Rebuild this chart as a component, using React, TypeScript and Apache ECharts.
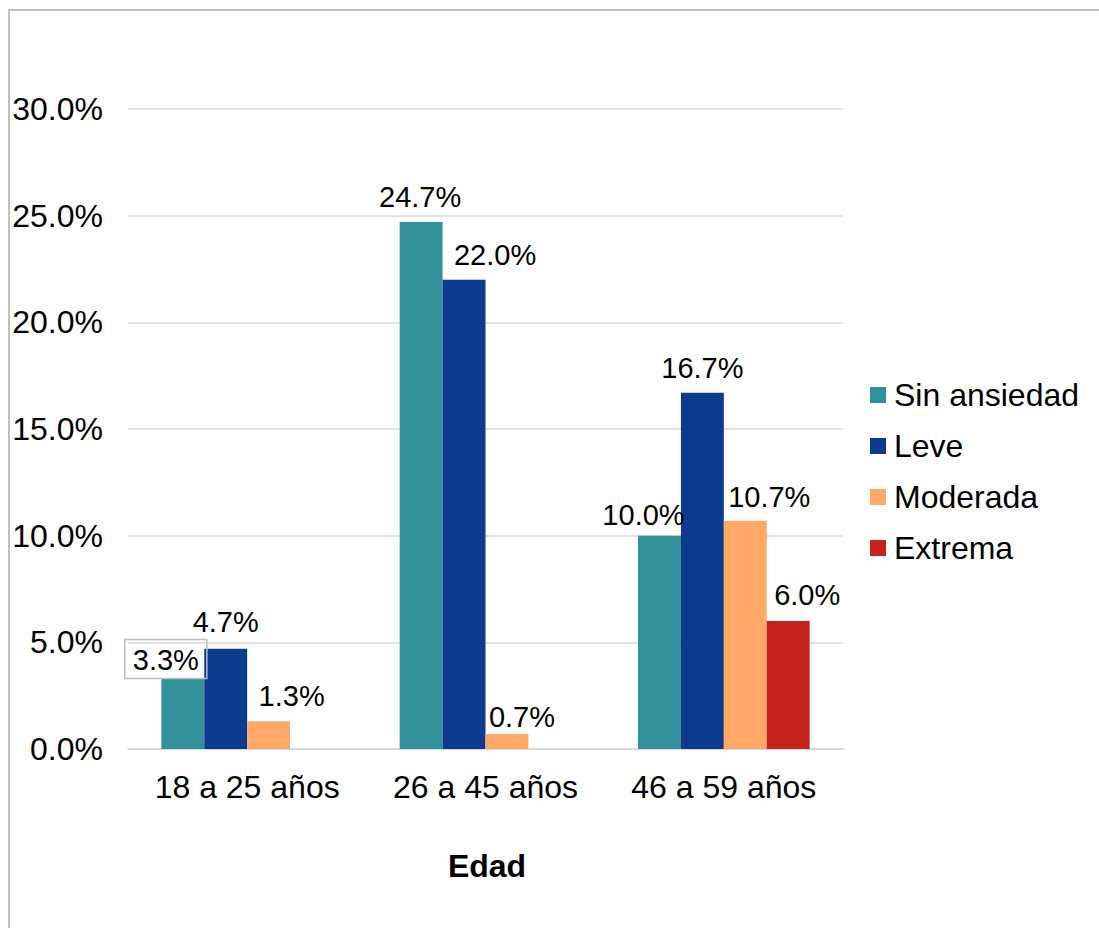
import React, { useEffect, useRef } from "react";
import * as echarts from "echarts";

// Age groups on the x axis
const categories = ["18 a 25 años", "26 a 45 años", "46 a 59 años"];

// Percentages per anxiety level
const sinAnsiedad = [3.3, 24.7, 10.0];
const leve = [4.7, 22.0, 16.7];
const moderada = [1.3, 0.7, 10.7];
const extrema: (number | null)[] = [null, null, 6.0];

// Y axis range (percent)
const yMin = 0;
const yMax = 30;
const yStep = 5;

const seriesNames = ["Sin ansiedad", "Leve", "Moderada", "Extrema"];
const colors = ["#31909A", "#0C3A8F", "#FFA867", "#C4221A"];

// Label nudges [dx, dy] for each bar label
const labelOffsets: number[][][] = [
  [[-17, 11], [-1, 0], [-16, 5]],
  [[0, -1], [31, 1], [0, 1]],
  [[23, 0], [15, 8], [24, 2]],
  [[0, 0], [0, 0], [19, -1]],
];

const FONT = "'Liberation Sans', Arial, sans-serif";

export default function App() {
  const ref = useRef<HTMLDivElement>(null);

  useEffect(() => {
    document.body.style.margin = "0";
    if (!ref.current) return;
    const chart = echarts.init(ref.current, undefined, { renderer: "svg" });

    const allValues = [sinAnsiedad, leve, moderada, extrema];

    const series = allValues.map((vals, si) => ({
      name: seriesNames[si],
      type: "bar" as const,
      barGap: "0%",
      barCategoryGap: "28%",
      itemStyle: { color: colors[si] },
      data: vals.map((v, ci) => {
        if (v === null) return { value: null };
        const isBoxed = si === 0 && ci === 0;
        return {
          value: v,
          label: {
            show: true,
            position: "top",
            distance: 11,
            offset: labelOffsets[si][ci],
            formatter: (p: any) => Number(p.value).toFixed(1) + "%",
            fontFamily: FONT,
            fontSize: 29,
            color: "#000",
            ...(isBoxed
              ? {
                  borderColor: "#bfbfbf",
                  borderWidth: 1.5,
                  padding: [6, 8, 4, 8],
                }
              : {}),
          },
        };
      }),
    }));

    chart.setOption({
      animation: false,
      backgroundColor: "#fff",
      textStyle: { fontFamily: FONT },
      graphic: [
        {
          type: "rect",
          shape: { x: 9, y: 10, width: 1200, height: 1000 },
          style: { fill: "none", stroke: "#c0c0c0", lineWidth: 2 },
          silent: true,
        },
        {
          type: "text",
          x: 487,
          y: 866,
          style: {
            text: "Edad",
            font: "bold 32px " + FONT,
            fill: "#000",
            align: "center",
            verticalAlign: "middle",
          },
        },
      ],
      legend: {
        orient: "vertical",
        left: 865,
        top: 372,
        itemWidth: 16,
        itemHeight: 16,
        itemGap: 15,
        icon: "rect",
        data: seriesNames,
        textStyle: {
          fontFamily: FONT,
          fontSize: 32,
          color: "#000",
          lineHeight: 36,
          padding: [0, 0, 0, 3],
        },
      },
      grid: { left: 128, right: 256, top: 109, bottom: 179 },
      xAxis: {
        type: "category",
        data: categories,
        axisLine: { lineStyle: { color: "#d9d9d9", width: 2 } },
        axisTick: { show: false },
        axisLabel: {
          interval: 0,
          hideOverlap: false,
          fontFamily: FONT,
          fontSize: 32,
          color: "#000",
          margin: 22,
        },
      },
      yAxis: {
        type: "value",
        min: yMin,
        max: yMax,
        interval: yStep,
        axisLine: { show: false },
        axisTick: { show: false },
        splitLine: { lineStyle: { color: "#d9d9d9", width: 1.5 } },
        axisLabel: {
          fontFamily: FONT,
          fontSize: 32,
          color: "#000",
          margin: 25,
          formatter: (v: number) => v.toFixed(1) + "%",
        },
      },
      series,
    });

    return () => chart.dispose();
  }, []);

  return <div ref={ref} style={{ width: 1099, height: 928 }} />;
}
